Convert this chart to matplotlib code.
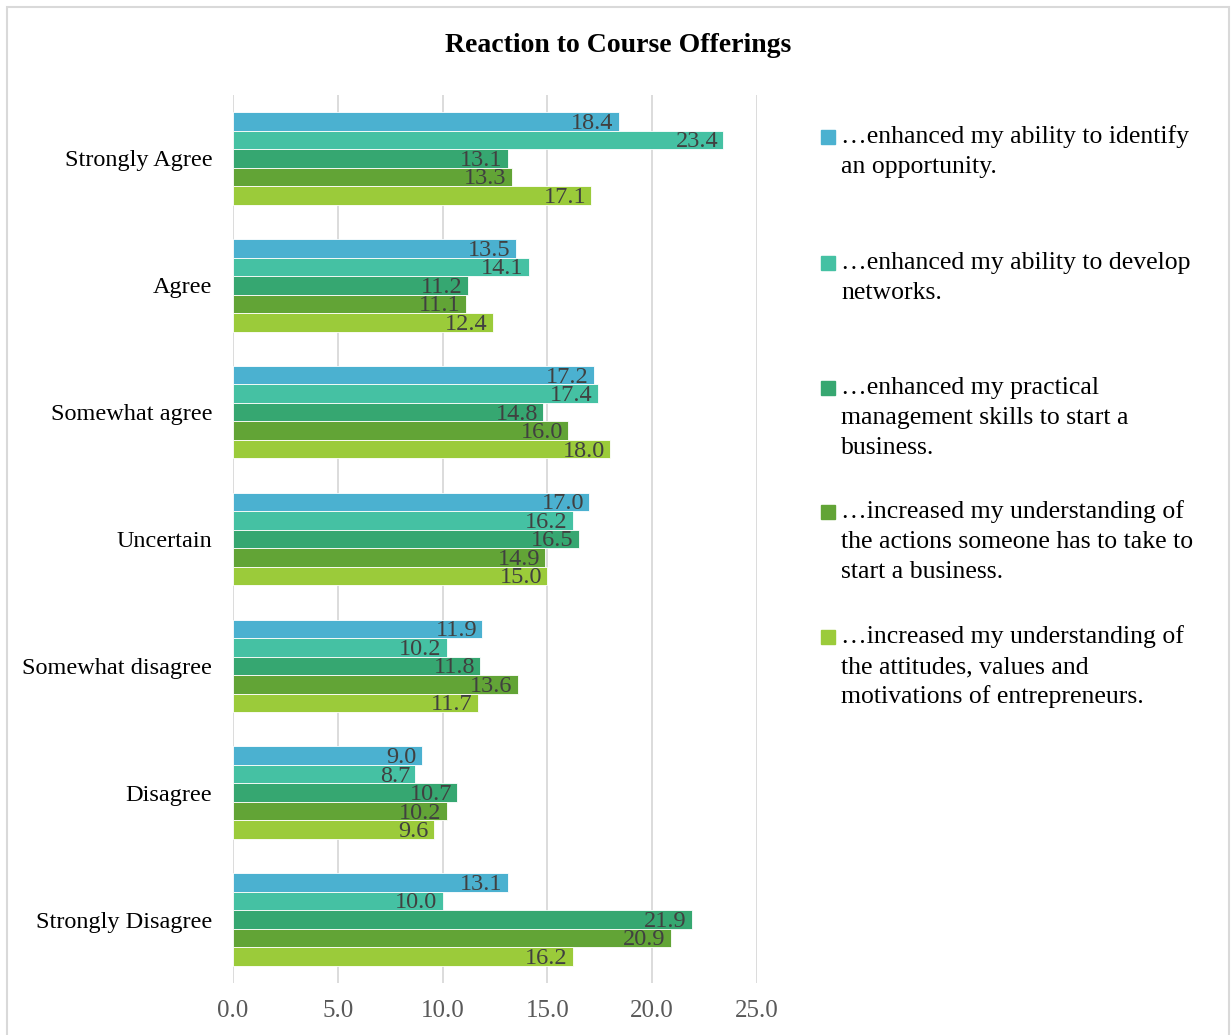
import matplotlib.pyplot as plt
from matplotlib.patches import Rectangle
import numpy as np

plt.rcParams['font.family'] = ['Liberation Serif', 'DejaVu Serif']

categories = ['Strongly Agree', 'Agree', 'Somewhat agree', 'Uncertain',
              'Somewhat disagree', 'Disagree', 'Strongly Disagree']

identify_opportunity = [18.4, 13.5, 17.2, 17.0, 11.9, 9.0, 13.1]
develop_networks = [23.4, 14.1, 17.4, 16.2, 10.2, 8.7, 10.0]
management_skills = [13.1, 11.2, 14.8, 16.5, 11.8, 10.7, 21.9]
actions_to_start = [13.3, 11.1, 16.0, 14.9, 13.6, 10.2, 20.9]
attitudes_values = [17.1, 12.4, 18.0, 15.0, 11.7, 9.6, 16.2]

series_labels = [
    '…enhanced my ability to identify\nan opportunity.',
    '…enhanced my ability to develop\nnetworks.',
    '…enhanced my practical\nmanagement skills to start a\nbusiness.',
    '…increased my understanding of\nthe actions someone has to take to\nstart a business.',
    '…increased my understanding of\nthe attitudes, values and\nmotivations of entrepreneurs.',
]
colors = ['#4bb1d0', '#45c1a3', '#36a771', '#62a436', '#9bcb3a']

series = [identify_opportunity, develop_networks, management_skills,
          actions_to_start, attitudes_values]

fig = plt.figure(figsize=(12.31, 10.35), dpi=100)
ax = fig.add_axes([233 / 1231, 1 - 983 / 1035, (757 - 233) / 1231, (983 - 95) / 1035])

y = np.arange(len(categories))
h = 0.146
for i, (vals, c) in enumerate(zip(series, colors)):
    pos = y - 2 * h + i * h
    ax.barh(pos, vals, height=h, color=c, edgecolor='white', linewidth=0.6, zorder=2)
    for p, v in zip(pos, vals):
        ax.text(v - 0.25, p + 0.015, f'{v:.1f}', ha='right', va='center',
                fontsize=17.5, color='#404040', zorder=3)

ax.set_xlim(0, 25)
ax.set_ylim(len(categories) - 0.5, -0.5)
ax.set_xticks([0, 5, 10, 15, 20, 25])
ax.set_xticklabels([f'{t:.1f}' for t in [0, 5, 10, 15, 20, 25]])
ax.set_yticks(y)
ax.set_yticklabels(categories)
ax.tick_params(axis='x', length=0, labelsize=18, labelcolor='#595959', pad=12)
ax.tick_params(axis='y', length=0, labelsize=17.5, labelcolor='black', pad=15)
ax.grid(axis='x', color='#d9d9d9', linewidth=1.3, zorder=0)
ax.set_axisbelow(True)
for s in ax.spines.values():
    s.set_visible(False)

fig.text(618 / 1231, 1 - 45 / 1035, 'Reaction to Course Offerings',
         ha='center', va='center', fontsize=20, fontweight='bold')

# legend drawn by hand: square + wrapped lines
first_line_y = [137, 263, 388, 512, 637]
line_gap = 30
for lab, c, y0 in zip(series_labels, colors, first_line_y):
    fig.patches.append(Rectangle((821 / 1231, 1 - (y0 + 7) / 1035), 14 / 1231, 14 / 1035,
                                 transform=fig.transFigure, color=c))
    for k, line in enumerate(lab.split('\n')):
        fig.text(841 / 1231, 1 - (y0 + k * line_gap) / 1035, line,
                 ha='left', va='center', fontsize=18.5)

# outer frame
fig.patches.append(Rectangle((7 / 1231, -0.01), 1222 / 1231, 1 - 7 / 1035 + 0.01,
                             transform=fig.transFigure, fill=False,
                             edgecolor='#d9d9d9', linewidth=1.5))

fig.savefig('out.png', dpi=100)
